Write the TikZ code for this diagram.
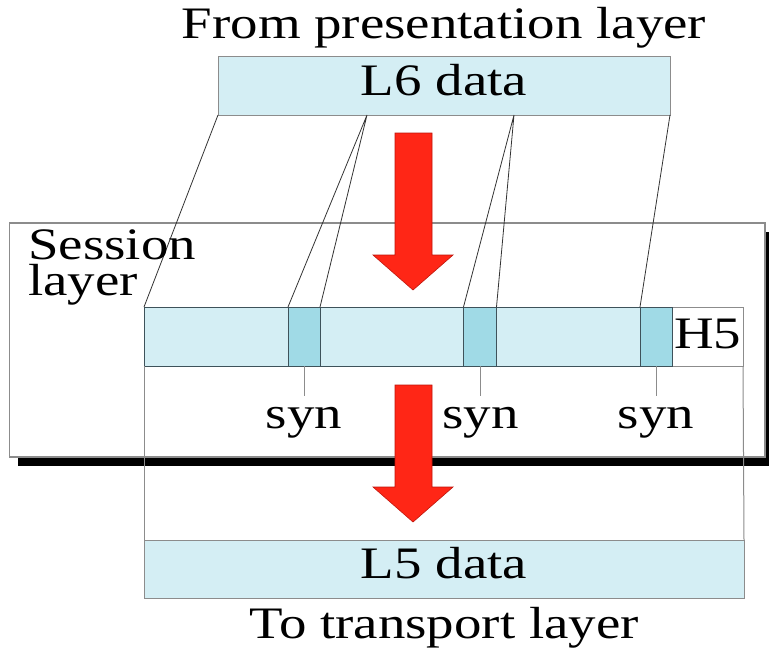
\documentclass[tikz,border=0pt]{standalone}
\usepackage{fontspec}
\setmainfont{Liberation Serif}[FakeStretch=1.22]
\definecolor{pale}{RGB}{212,238,244}
\definecolor{synblue}{RGB}{160,218,230}
\definecolor{arrowred}{RGB}{255,38,22}
\definecolor{arrowedge}{RGB}{190,20,10}
\definecolor{edge}{RGB}{62,82,90}
\definecolor{frame}{RGB}{140,140,140}
\tikzset{
  txt/.style={inner sep=0pt, font=\fontsize{45}{45}\selectfont},
  box/.style={anchor=north west, inner sep=0pt, outer sep=0pt},
  databox/.style={box, draw=frame, fill=pale, line width=1pt},
  synbox/.style={box, draw=edge, fill=synblue, line width=1pt, minimum height=59pt},
  link/.style={draw=black!80, line width=0.8pt},
  redarrow/.style={fill=arrowred, draw=arrowedge, line width=0.6pt, line join=miter},
}
\begin{document}
\begin{tikzpicture}[x=1pt,y=-1pt]
\useasboundingbox (0,0) rectangle (769,651);

% session layer panel with its drop shadow
\node[box, minimum width=755.5pt, minimum height=234pt] (session) at (9.5,223) {};
\fill[black] ([shift={(8.5,8.5)}]session.north west) rectangle ([shift={(8.5,8.5)}]session.south east);
\draw[frame, fill=white, line width=1.2pt] (session.north west) rectangle (session.south east);

% session PDU: data with sync points and the H5 header
\node[box, draw=frame, fill=white, line width=1pt, minimum width=599pt, minimum height=59pt] (strip) at (144,307) {};
\node[box, draw=edge, fill=pale, line width=1pt, minimum width=528pt, minimum height=59pt] (payload) at (144,307) {};
\node[synbox, minimum width=32pt] (syn1) at (288,307) {};
\node[synbox, minimum width=33pt] (syn2) at (463.5,307) {};
\node[synbox, minimum width=32pt] (syn3) at (640,307) {};

% L5 data going down
\node[databox, minimum width=600pt, minimum height=58pt] (l5) at (144,540) {};
\draw[frame, line width=1pt] (strip.south west) -- (l5.north west);
\draw[frame, line width=1pt] (strip.south east) -- (l5.north east);

% L6 data coming in
\node[databox, minimum width=452pt, minimum height=59pt] (l6) at (218,56) {};

% mapping of L6 data onto the session PDU
\coordinate (cut1) at (367,115);
\coordinate (cut2) at (514,115);
\draw[link] (l6.south west) -- (strip.north west);
\draw[link] (syn1.north west) -- (cut1) -- (syn1.north east);
\draw[link] (syn2.north west) -- (cut2) -- (syn2.north east);
\draw[link] (l6.south east) -- (syn3.north west);

% sync point markers
\foreach \s/\x in {syn1/304, syn2/480.5, syn3/656} {
  \draw[frame, line width=1pt] (\s.south) -- ++(0,30) coordinate (\s tick);
  \node[txt, anchor=base] (\s label) at (\x,428) {syn};
}

% flow arrows
\filldraw[redarrow] (395,133) -- (432,133) -- (432,255) -- (453,255) -- (413,290)
  -- (373,255) -- (395,255) -- cycle;
\filldraw[redarrow] (395,385) -- (432,385) -- (432,487) -- (453,487) -- (413,522)
  -- (373,487) -- (395,487) -- cycle;

% texts
\node[txt, anchor=base] (title) at (444,38) {From presentation layer};
\node[txt, anchor=base] (l6text) at (444,95) {L6 data};
\node[txt, font=\fontsize{45}{36}\selectfont, align=left, anchor=north west]
  (sessiontext) at (28,230) {Session\\layer};
\node[txt, anchor=base west] (h5) at (674,348) {H5};
\node[txt, anchor=base] (l5text) at (444,578) {L5 data};
\node[txt, anchor=base] (bottom) at (444,638) {To transport layer};
\end{tikzpicture}
\end{document}
